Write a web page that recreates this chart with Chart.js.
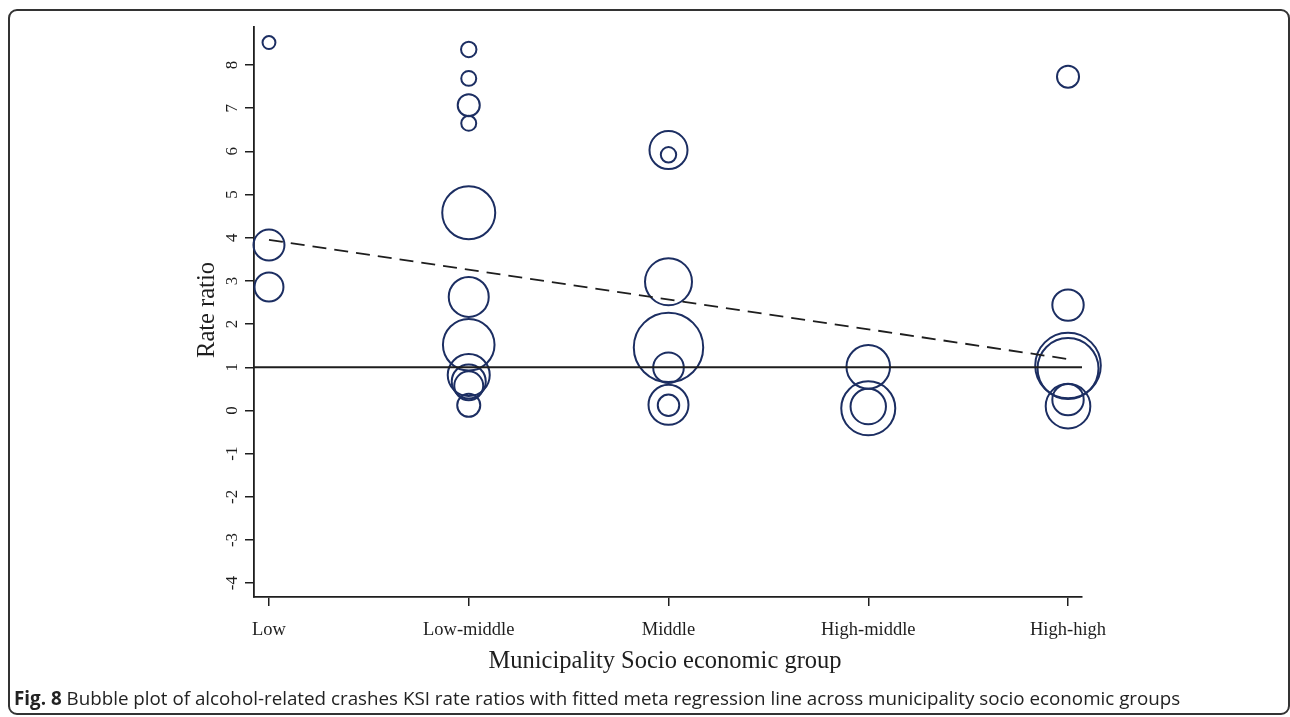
<!DOCTYPE html>
<html>
<head>
<meta charset="utf-8">
<script src="https://cdn.jsdelivr.net/npm/chart.js@4.4.1/dist/chart.umd.min.js"></script>
<style>
  html, body { margin: 0; padding: 0; background: #fff; width: 1290px; height: 717px; overflow: hidden; }
  #frame { position: absolute; left: 8px; top: 9px; width: 1278px; height: 702px; border: 2px solid #333; border-radius: 9px; }
  #wrap { position: absolute; left: 0; top: 0; width: 1290px; height: 717px; }
  #caption { position: absolute; left: 14px; top: 685px; font-family: "Open Sans", sans-serif; font-size: 18.8px; color: #222; white-space: nowrap; }
  #caption b { font-weight: 700; }
</style>
</head>
<body>
<div id="frame"></div>
<div id="wrap"><canvas id="c"></canvas></div>
<div id="caption"><b>Fig. 8</b> Bubble plot of alcohol-related crashes KSI rate ratios with fitted meta regression line across municipality socio economic groups</div>
<script>
// Municipality socio-economic groups (x axis categories)
const categories = ['Low', 'Low-middle', 'Middle', 'High-middle', 'High-high'];
const yTickValues = [-4, -3, -2, -1, 0, 1, 2, 3, 4, 5, 6, 7, 8];

// Study-level KSI rate ratios and their meta-analytic weights, per group
const lowRR        = [8.52, 3.83, 2.86];
const lowW         = [2.6, 15.0, 13.1];
const lowMiddleRR  = [8.36, 7.69, 7.07, 6.65, 4.58, 2.63, 1.52, 0.82, 0.67, 0.57, 0.12];
const lowMiddleW   = [3.7, 3.5, 7.6, 3.5, 43.9, 25.0, 41.6, 27.6, 18.1, 13.1, 8.3];
const middleRR     = [6.03, 5.92, 2.98, 1.46, 0.99, 0.13, 0.12];
const middleW      = [22.6, 3.7, 34.5, 75.3, 14.6, 25.0, 7.2];
const highMiddleRR = [1.01, 0.05, 0.09];
const highMiddleW  = [29.7, 45.6, 19.6];
const highHighRR   = [7.73, 2.44, 1.04, 0.97, 0.10, 0.25];
const highHighW    = [7.6, 15.4, 67.2, 58.1, 31.1, 15.4];

// Fitted meta-regression line: predicted rate ratio at Low and at High-high
const fitAtLow = 3.95;
const fitAtHighHigh = 1.19;
// Null-effect reference line
const nullRR = 1;

// Axis ranges
const xMin = -0.075, xMax = 4.07;
const yMin = -4.32, yMax = 8.88;

const groupRR = [lowRR, lowMiddleRR, middleRR, highMiddleRR, highHighRR];
const groupW  = [lowW, lowMiddleW, middleW, highMiddleW, highHighW];

const navy = '#1c2e62';
const ink = '#1e1e1e';
const serif = '"Liberation Serif", "Times New Roman", serif';

// bubble area proportional to weight
const radiusOf = w => 4 * Math.sqrt(w);

const bubblePoints = [];
groupRR.forEach((rrs, gi) => {
  rrs.forEach((rr, k) => {
    bubblePoints.push({ x: gi, y: rr, r: radiusOf(groupW[gi][k]) });
  });
});

// Rotated y tick labels and axis titles
const axisText = {
  id: 'axisText',
  afterDraw(chart) {
    const { ctx, scales: { x, y } } = chart;
    ctx.save();
    ctx.fillStyle = ink;
    ctx.textAlign = 'center';
    ctx.textBaseline = 'middle';
    ctx.font = '17px ' + serif;
    y.ticks.forEach(t => {
      const py = y.getPixelForValue(t.value);
      ctx.save();
      ctx.translate(y.right - 21, py);
      ctx.rotate(-Math.PI / 2);
      ctx.fillText(String(t.value), 0, 0);
      ctx.restore();
    });
    ctx.font = '24.5px ' + serif;
    ctx.save();
    ctx.translate(208, (y.top + y.bottom) / 2 - 2);
    ctx.rotate(-Math.PI / 2);
    ctx.fillText('Rate ratio', 0, 0);
    ctx.restore();
    ctx.fillText('Municipality Socio economic group', (x.left + x.right) / 2 - 3, 662);
    ctx.restore();
  }
};

new Chart(document.getElementById('c'), {
  type: 'bubble',
  data: {
    datasets: [
      {
        type: 'line',
        data: [{ x: xMin, y: nullRR }, { x: xMax, y: nullRR }],
        borderColor: ink,
        borderWidth: 2,
        pointRadius: 0,
        fill: false
      },
      {
        type: 'line',
        data: [{ x: 0, y: fitAtLow }, { x: 4, y: fitAtHighHigh }],
        borderColor: ink,
        borderWidth: 1.8,
        borderDash: [14, 8],
        pointRadius: 0,
        fill: false
      },
      {
        data: bubblePoints,
        backgroundColor: 'rgba(0,0,0,0)',
        borderColor: navy,
        borderWidth: 2,
        hoverBorderWidth: 2,
        clip: false
      }
    ]
  },
  options: {
    responsive: true,
    maintainAspectRatio: false,
    animation: false,
    events: [],
    layout: { autoPadding: false, padding: { left: 190, top: 27, right: 208, bottom: 70 } },
    plugins: { legend: { display: false }, tooltip: { enabled: false } },
    scales: {
      x: {
        type: 'linear',
        min: xMin,
        max: xMax,
        afterBuildTicks: s => { s.ticks = categories.map((_, i) => ({ value: i })); },
        afterFit: s => { s.height = 50; },
        grid: { drawOnChartArea: false, drawTicks: true, tickLength: 9, color: ink, lineWidth: 1.5 },
        border: { display: true, color: ink, width: 1.8 },
        ticks: {
          color: ink,
          font: { family: serif, size: 18.5 },
          padding: 13,
          maxRotation: 0,
          autoSkip: false,
          callback: v => categories[v]
        }
      },
      y: {
        type: 'linear',
        min: yMin,
        max: yMax,
        afterBuildTicks: s => { s.ticks = yTickValues.map(v => ({ value: v })); },
        afterFit: s => { s.width = 64; },
        grid: { drawOnChartArea: false, drawTicks: true, tickLength: 9, color: ink, lineWidth: 1.5 },
        border: { display: true, color: ink, width: 1.8 },
        ticks: { display: false }
      }
    }
  },
  plugins: [axisText]
});
</script>
</body>
</html>
